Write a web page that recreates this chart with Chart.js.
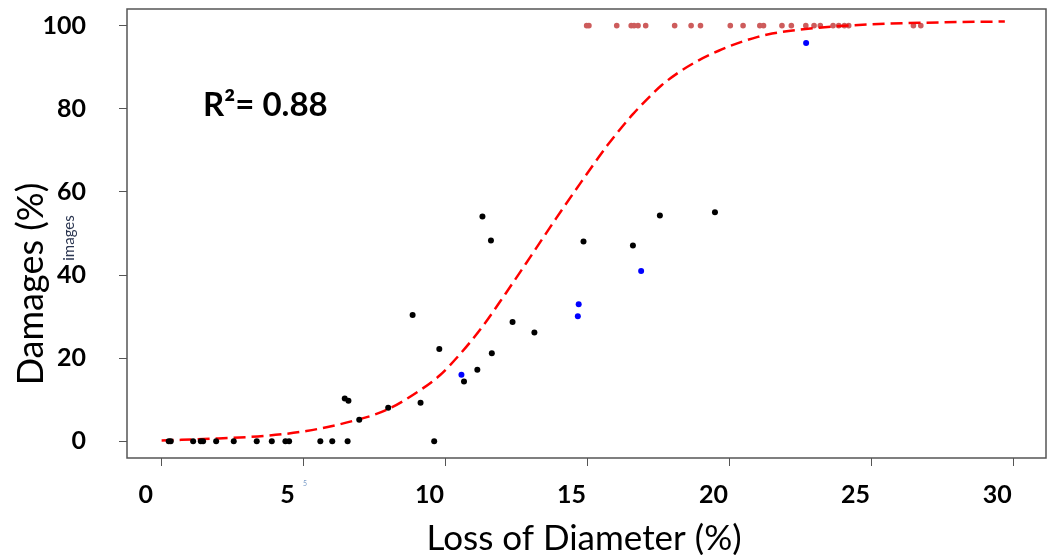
<!DOCTYPE html>
<html>
<head>
<meta charset="utf-8">
<title>Damages vs Loss of Diameter</title>
<script src="https://cdn.jsdelivr.net/npm/chart.js@4.4.1/dist/chart.umd.min.js"></script>
<style>
    html, body { margin: 0; padding: 0; background: #ffffff; }
    #wrap { width: 1050px; height: 555px; }
</style>
</head>
<body>
<div id="wrap"><canvas id="chart" width="1050" height="555"></canvas></div>
<script>
// Values

const xTicks = [0, 5, 10, 15, 20, 25, 30];
const yTicks = [0, 20, 40, 60, 80, 100];

// black points (observed)
const blackX = [0.25, 0.32, 1.11, 1.38, 1.46, 1.92, 2.54, 3.35, 3.88, 4.36, 4.49, 5.59, 6.01, 6.55,
    6.45, 6.58, 6.96, 7.98, 8.84, 9.12, 9.6, 9.78, 10.65, 11.12, 11.3, 11.6, 11.63, 12.36, 13.13,
    14.86, 16.6, 17.55, 19.49];
const blackY = [0, 0, 0, 0, 0, 0, 0, 0, 0, 0, 0, 0, 0, 0,
    10.3, 9.8, 5.2, 8.1, 30.4, 9.3, 0, 22.2, 14.4, 17.2, 54.1, 48.3, 21.2, 28.7, 26.2,
    48.1, 47.1, 54.3, 55.1];

// blue points
const blueX = [10.56, 14.69, 14.66, 16.89, 22.7];
const blueY = [16.0, 33.0, 30.1, 41.0, 95.8];

// red points along the top
const redX = [14.97, 15.05, 16.03, 16.54, 16.64, 16.78, 17.05, 18.07, 18.65, 18.98, 20.03, 20.48,
    21.07, 21.2, 21.85, 22.18, 22.69, 22.98, 23.2, 23.65, 23.85, 24.05, 24.2, 26.48, 26.74];
const redY = [100, 100, 100, 100, 100, 100, 100, 100, 100, 100, 100, 100,
    100, 100, 100, 100, 100, 100, 100, 100, 100, 100, 100, 100, 100];

// fitted curve, traced
const curveX = [0, 2.0, 3.8, 5.1, 6.5, 7.9, 9.1, 9.8, 10.5, 11.3, 12.1, 13.0, 13.9, 14.8, 15.2,
    15.7, 16.2, 16.6, 17.2, 17.6, 18.2, 18.9, 19.6, 20.3, 21.0, 21.5, 23.0, 25.0, 26.8, 29.7];
const curveY = [0.2, 0.7, 1.4, 2.5, 4.5, 7.5, 12.3, 15.9, 20.9, 27.6, 35.4, 44.5, 53.7, 62.6, 66.5,
    71.2, 75.5, 78.7, 83.0, 85.6, 88.7, 91.6, 93.9, 95.8, 97.3, 98.1, 99.4, 100.3, 100.7, 101.0];

const toPoints = (xs, ys) => xs.map((x, i) => ({ x: x, y: ys[i] }));

const axisGray = '#555555';
const tickFont = { family: 'Lato', weight: 'bold', size: 25 };

// frame + free text (R², axis titles, small labels)
const annotations = {
    id: 'annotations',
    afterDraw(chart) {
        const ctx = chart.ctx;
        const a = chart.chartArea;
        ctx.save();

        ctx.strokeStyle = axisGray;
        ctx.lineWidth = 1.5;
        ctx.strokeRect(a.left, a.top, a.right - a.left, a.bottom - a.top);

        ctx.fillStyle = '#000000';
        ctx.font = 'bold 33px Lato';
        ctx.textAlign = 'left';
        ctx.textBaseline = 'alphabetic';
        ctx.fillText('R²= 0.88', 203, 116);

        ctx.font = '35px Lato';
        ctx.textAlign = 'center';
        ctx.fillText('Loss of Diameter (%)', 584, 550);

        ctx.save();
        ctx.translate(43, 284);
        ctx.rotate(-Math.PI / 2);
        ctx.font = '36px Lato';
        ctx.fillText('Damages (%)', 0, 0);
        ctx.restore();

        ctx.save();
        ctx.fillStyle = '#2a3550';
        ctx.font = '15px Lato';
        ctx.translate(74, 238);
        ctx.rotate(-Math.PI / 2);
        ctx.fillText('images', 0, 0);
        ctx.restore();

        ctx.fillStyle = '#7a9cc8';
        ctx.font = '7px Lato';
        ctx.fillText('5', 305, 486);

        ctx.restore();
    }
};

new Chart(document.getElementById('chart').getContext('2d'), {
    type: 'scatter',
    data: {
        datasets: [
            {
                label: 'observed',
                data: toPoints(blackX, blackY),
                backgroundColor: '#000000',
                pointRadius: 3,
                pointBorderWidth: 0
            },
            {
                label: 'images',
                data: toPoints(blueX, blueY),
                backgroundColor: '#0000ff',
                pointRadius: 3,
                pointBorderWidth: 0
            },
            {
                label: 'fit',
                type: 'line',
                data: toPoints(curveX, curveY),
                borderColor: '#ff0000',
                borderWidth: 2.5,
                borderDash: [12, 6],
                pointRadius: 0,
                fill: false,
                cubicInterpolationMode: 'monotone'
            },
            {
                label: 'total loss',
                data: toPoints(redX, redY),
                backgroundColor: '#cd5c5c',
                pointRadius: 2.8,
                pointBorderWidth: 0
            }
        ]
    },
    options: {
        responsive: false,
        animation: false,
        layout: {
            padding: { top: 9, right: 2, left: 0, bottom: 0 }
        },
        plugins: {
            legend: { display: false },
            tooltip: { enabled: false }
        },
        scales: {
            x: {
                type: 'linear',
                min: -1.22,
                max: 31.15,
                afterBuildTicks: (axis) => { axis.ticks = xTicks.map(v => ({ value: v })); },
                afterFit: (axis) => {
                    axis.height = 97;
                    axis.paddingLeft = 0;
                    axis.paddingRight = 0;
                },
                grid: { drawOnChartArea: false, drawTicks: true, tickLength: 8, color: axisGray },
                border: { display: false },
                ticks: { font: tickFont, color: '#000000', padding: 14, labelOffset: -16, maxRotation: 0 }
            },
            y: {
                type: 'linear',
                min: -4,
                max: 104,
                afterBuildTicks: (axis) => { axis.ticks = yTicks.map(v => ({ value: v })); },
                afterFit: (axis) => {
                    axis.width = 127;
                    axis.paddingTop = 0;
                    axis.paddingBottom = 0;
                },
                grid: { drawOnChartArea: false, drawTicks: true, tickLength: 8, color: axisGray },
                border: { display: false },
                ticks: { font: tickFont, color: '#000000', padding: 33 }
            }
        }
    },
    plugins: [annotations]
});
</script>
</body>
</html>
